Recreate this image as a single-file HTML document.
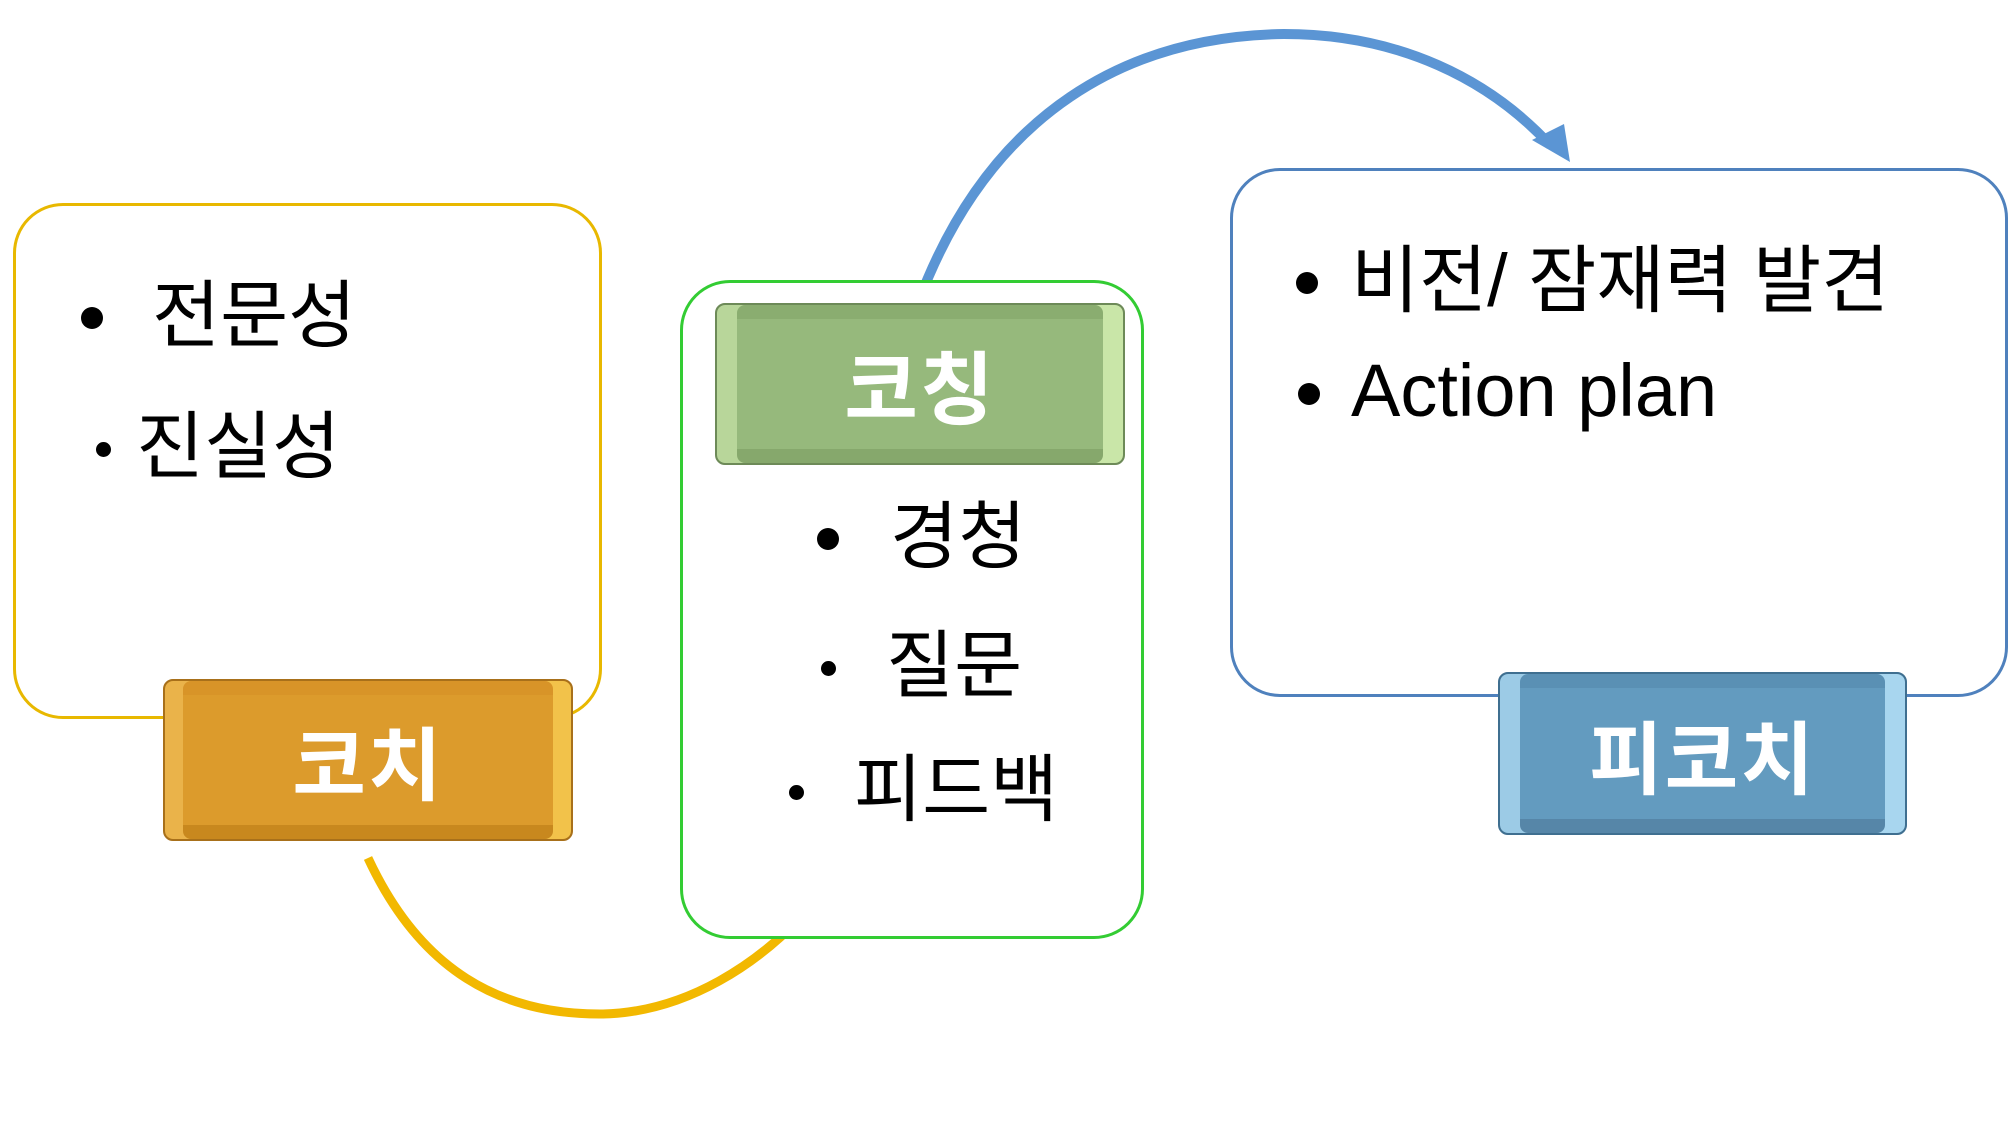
<!DOCTYPE html>
<html><head><meta charset="utf-8"><style>
body{margin:0;width:2013px;height:1125px;background:#fff;position:relative;overflow:hidden;font-family:"Liberation Sans","Noto Sans CJK KR",sans-serif}
.box{position:absolute;background:#fff;border-radius:50px;box-sizing:border-box}
.btn{position:absolute;border-radius:10px;box-sizing:border-box;color:#fff;font-weight:bold;font-size:80px;display:flex;align-items:center;justify-content:center;letter-spacing:2px}
.t{position:absolute;font-size:74px;color:#000;line-height:1;white-space:nowrap}
.d{position:absolute;width:22px;height:22px;border-radius:50%;background:#000}
.s{position:absolute;width:15px;height:15px;border-radius:50%;background:#000}
</style></head><body>
<svg style="position:absolute;left:0;top:0" width="2013" height="1125">
<path d="M368 858 C420 970, 500 1015, 603 1014 C690 1012, 760 960, 800 918" fill="none" stroke="#f2b800" stroke-width="9"/>
<path d="M794 912 L816 902 L808 924 Z" fill="#fdf6dc"/>
<path d="M918 303 C990 110, 1130 36, 1284 34 C1400 34, 1490 80, 1550 145" fill="none" stroke="#5b95d4" stroke-width="10"/>
<path d="M1532 140 L1570 162 L1564 124 Z" fill="#5b95d4"/>
</svg>
<div class="box" style="left:13px;top:203px;width:589px;height:516px;border:3px solid #e8b800"></div>
<div class="box" style="left:680px;top:280px;width:464px;height:659px;border:3px solid #33cc33"></div>
<div class="box" style="left:1230px;top:168px;width:778px;height:529px;border:3px solid #4f81bd"></div>
<div class="btn" style="left:163px;top:679px;width:410px;height:162px;background:#dc9b2c;border:2px solid #a8701a;box-shadow:inset 18px 0 0 #eab34a,inset -18px 0 0 #f2c24a,inset 0 14px 0 #d89428,inset 0 -14px 0 #c8881e">코치</div>
<div class="btn" style="left:715px;top:303px;width:410px;height:162px;background:#96b97c;border:2px solid #6d8a58;box-shadow:inset 20px 0 0 #b8d69a,inset -20px 0 0 #c9e6a8,inset 0 14px 0 #8aad70,inset 0 -14px 0 #86a86c">코칭</div>
<div class="btn" style="left:1498px;top:672px;width:409px;height:163px;background:#639bbf;border:2px solid #3f6f90;box-shadow:inset 20px 0 0 #9ccbe6,inset -20px 0 0 #a8d6ef,inset 0 14px 0 #5a90b4,inset 0 -14px 0 #5686a8">피코치</div>
<div class="d" style="left:81px;top:307px"></div><div class="t" style="left:152px;top:279px">전문성</div>
<div class="s" style="left:96px;top:442px"></div><div class="t" style="left:136px;top:410px">진실성</div>
<div class="d" style="left:817px;top:528px"></div><div class="t" style="left:890px;top:500px">경청</div>
<div class="s" style="left:821px;top:661px"></div><div class="t" style="left:886px;top:629px">질문</div>
<div class="s" style="left:789px;top:785px"></div><div class="t" style="left:854px;top:753px">피드백</div>
<div class="d" style="left:1296px;top:272px"></div><div class="t" style="left:1351px;top:244px">비전/ 잠재력 발견</div>
<div class="d" style="left:1298px;top:383px"></div><div class="t" style="left:1351px;top:354px">Action plan</div>
</body></html>
